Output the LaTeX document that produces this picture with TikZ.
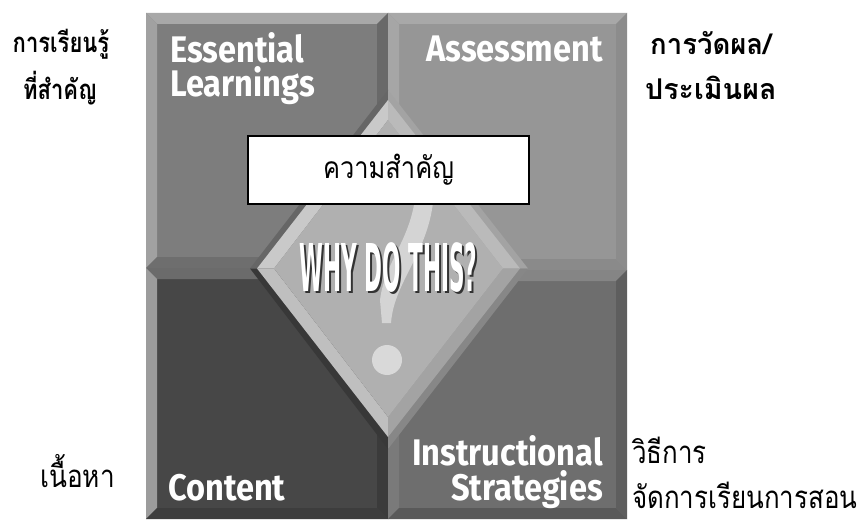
\documentclass[tikz,border=0pt]{standalone}
\usepackage{fontspec}
\setmainfont{Liberation Sans}
\newfontfamily\thaifont[Script=Thai]{Loma}
\newfontfamily\enfont{Fira Sans}
\newfontfamily\whyfont{DejaVu Sans}
\newcommand\mybevel[9]{%
  \fill[#5] (#1,#2) rectangle (#3,#4);
  \fill[#6] (#1,#2) -- (#3,#2) -- (#3-11,#2+11) -- (#1+11,#2+11) -- cycle;
  \fill[#7] (#1,#2) -- (#1+11,#2+11) -- (#1+11,#4-11) -- (#1,#4) -- cycle;
  \fill[#8] (#1,#4) -- (#1+11,#4-11) -- (#3-11,#4-11) -- (#3,#4) -- cycle;
  \fill[#9] (#3,#2) -- (#3-11,#2+11) -- (#3-11,#4-11) -- (#3,#4) -- cycle;
}
\newcommand\enlab[1]{\scalebox{0.88}[1]{#1}}
\newcommand\whytext{\scalebox{0.60}[1.83]{WHY DO THIS?}}
\tikzset{
  enlabel/.style={font=\enfont\bfseries\fontsize{37}{37}\selectfont, text=white, inner sep=0pt},
  thbold/.style={font=\thaifont\bfseries\fontsize{22}{22}\selectfont, text=black, inner sep=0pt},
  threg/.style={font=\thaifont\fontsize{24}{24}\selectfont, text=black, inner sep=0pt},
}
\begin{document}
\begin{tikzpicture}[x=1pt,y=-1pt]
\useasboundingbox (0,0) rectangle (861,521);
\fill[white] (0,0) rectangle (861,521);
% quadrants
\mybevel{146}{13}{388}{268}{black!51}{black!34}{black!37}{black!57}{black!59}
\mybevel{388}{13}{627}{270}{black!41}{black!34}{black!35}{black!46}{black!45}
\mybevel{146}{268}{388}{519}{black!72}{black!58}{black!39}{black!76}{black!77}
\mybevel{388}{270}{627}{519}{black!57}{black!48}{black!52}{black!65}{black!63}
% diamond shadow band
\fill[black!60] (388,268.5) -- (250,268.5) -- (388,90) -- cycle;
\fill[black!36] (388,268.5) -- (388,90) -- (528,268.5) -- cycle;
\fill[black!78] (388,268.5) -- (250,268.5) -- (388,449) -- cycle;
\fill[black!47] (388,268.5) -- (388,449) -- (528,268.5) -- cycle;
% diamond rim
\coordinate (dT) at (388,100); \coordinate (dR) at (520,268.5);
\coordinate (dB) at (388,437); \coordinate (dL) at (257,268.5);
\coordinate (iT) at (388,120); \coordinate (iR) at (503,268.5);
\coordinate (iB) at (388,417); \coordinate (iL) at (274,268.5);
\fill[black!21] (dL) -- (dT) -- (iT) -- (iL) -- cycle;
\fill[black!27] (dT) -- (dR) -- (iR) -- (iT) -- cycle;
\fill[black!25] (dL) -- (dB) -- (iB) -- (iL) -- cycle;
\fill[black!36] (dB) -- (dR) -- (iR) -- (iB) -- cycle;
\fill[black!31] (iT) -- (iR) -- (iB) -- (iL) -- cycle;
% question mark
\fill[black!17] (416,190) .. controls (412,240) and (385,260) .. (380,300) -- (382,323) -- (391,323)
  .. controls (394,280) and (432,250) .. (434,190) -- cycle;
\fill[black!15] (387,360) circle (15);
% WHY DO THIS? (with drop shadow in the same node)
\node[font=\whyfont\bfseries\fontsize{36}{36}\selectfont, text=white, inner sep=0pt] (why) at (388.5,269)
  {\makebox[0pt][l]{\hspace{2pt}\raisebox{-2pt}{\textcolor{black!80}{\whytext}}}\whytext};
% English labels
\node[enlabel, anchor=base west] (ess) at (170,63) {\enlab{Essential}};
\node[enlabel, anchor=base west] (lea) at (170,97) {\enlab{Learnings}};
\node[enlabel, anchor=base east] (ass) at (603,62) {\enlab{Assessment}};
\node[enlabel, anchor=base west] (con) at (168,500) {\enlab{Content}};
\node[enlabel, anchor=base east] (ins) at (603,465) {\enlab{Instructional}};
\node[enlabel, anchor=base east] (str) at (603,500) {\enlab{Strategies}};
% white box
\node[draw=black, line width=1.5pt, fill=white, minimum width=281pt, minimum height=68pt, inner sep=0pt,
  font=\thaifont\fontsize{24}{24}\selectfont] (box) at (388.5,170) {\scalebox{1.06}[1.25]{ความสำคัญ}};
% Thai labels
\node[thbold, anchor=base] (t1) at (61,53) {\scalebox{1.0}[1.25]{การเรียนรู้}};
\node[thbold, anchor=base] (t2) at (60,100) {\scalebox{1.0}[1.25]{ที่สำคัญ}};
\node[thbold, anchor=base west] (t3) at (650,55) {\scalebox{1.25}[1.3]{การวัดผล/}};
\node[thbold, anchor=base west] (t4) at (645,100) {\scalebox{1.3}[1.3]{ประเมินผล}};
\node[threg, anchor=base west] (t5) at (40,487) {\scalebox{1.09}[1.3]{เนื้อหา}};
\node[threg, anchor=base west] (t6) at (632,463) {\scalebox{1.08}[1.3]{วิธีการ}};
\node[threg, anchor=base west] (t7) at (632,508) {\scalebox{1.08}[1.3]{จัดการเรียนการสอน}};
\end{tikzpicture}
\end{document}
